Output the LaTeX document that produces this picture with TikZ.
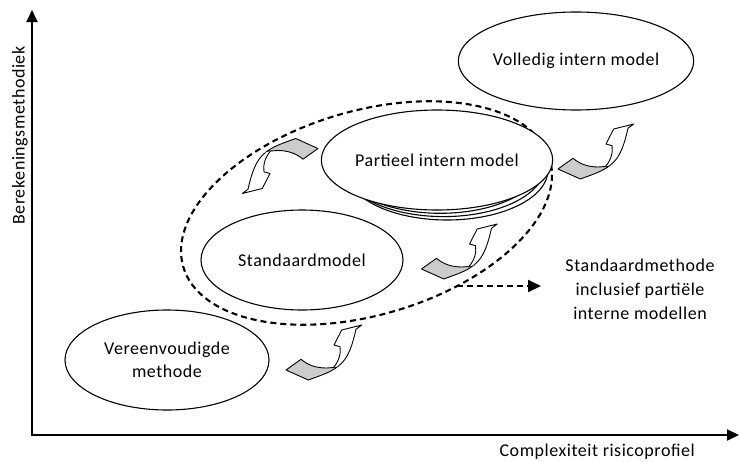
\documentclass[tikz,border=0pt]{standalone}
\usepackage{fontspec}
\setmainfont{Carlito}[LetterSpace=3]
\usetikzlibrary{shapes.geometric,arrows.meta}
\newcommand{\mycurlpath}{(9,15) .. controls (15,8) and (16.5,0) .. (15.5,-5.8) -- (9.5,-7.5) -- (17.2,-22.5) -- (37.2,-27.5) -- (31.5,-23.2) .. controls (28,-8) and (24,6) .. (14,13.5)}
\newcommand{\mycurlarrow}{%
  \filldraw[ribbonback] (-38.5,17.5) -- (-23.5,6.8) .. controls (-16,13) and (-8,15.5) .. (2,15.5) -- (9,15) -- (14,13.5) .. controls (6,20) and (-4,23) .. (-16.2,27.5) -- cycle;
  \fill[white] \mycurlpath -- cycle;
  \draw[ribbonline] \mycurlpath;
}
\begin{document}
\begin{tikzpicture}[x=1pt,y=-1pt,
  font=\fontsize{18}{23}\selectfont,
  model/.style={draw, ellipse, line width=1.1pt, fill=white, inner sep=0pt,
    minimum width=202pt, minimum height=100pt, align=center},
  axisline/.style={line width=2pt, line join=miter},
  groupline/.style={line width=2.1pt, dash pattern=on 6pt off 4pt},
  ribbonback/.style={fill=black!20, draw=black, line width=0.9pt, line join=round},
  ribbonline/.style={draw=black, line width=0.9pt, line join=round},
  label/.style={inner sep=0pt}]
\useasboundingbox (0,0) rectangle (739,461);

% axes
\coordinate (origin) at (32,435);
\coordinate (ytip) at (32,10);
\coordinate (xtip) at (739,435);
\draw[axisline, {Triangle[length=12pt,width=11pt]}-{Triangle[length=12pt,width=11pt]}] (ytip) -- (origin) -- (xtip);
\node[label, rotate=90] (ylab) at (20,135.5) {Berekeningsmethodiek};
\node[label, anchor=base east] (xlab) at (695,456.5) {Complexiteit risicoprofiel};

% dashed group
\node[draw, groupline, ellipse, inner sep=0pt, minimum width=382pt, minimum height=204pt, rotate=16.4] (grp) at (366.5,213) {};

% models
\node[model, minimum width=204pt] (simple) at (167,360) {Vereenvoudigde\\methode};
\node[model] (std) at (302,260) {Standaardmodel};
\node[model] (part3) at (447,170) {};
\node[model] (part2) at (443.6,166.6) {};
\node[model] (part1) at (440.3,163.3) {};
\node[model] (part) at (437,160) {Partieel intern model};
\node[model, minimum width=208pt, minimum height=98pt] (full) at (576,61) {Volledig intern model};

% note and dashed arrow
\node[label, align=center, font=\fontsize{18}{24}\selectfont] (note) at (640,289) {Standaardmethode\\inclusief partiële\\interne modellen};
\coordinate (dstart) at (457,286);
\coordinate (dend) at (541,286);
\draw[groupline, -{Triangle[length=13pt,width=12pt]}] (dstart) -- (dend);

% curved arrows
\begin{scope}[shift={(324.5,352.5)}] \mycurlarrow \end{scope}
\begin{scope}[shift={(460,251.5)}] \mycurlarrow \end{scope}
\begin{scope}[shift={(596.5,151.5)}] \mycurlarrow \end{scope}
\begin{scope}[shift={(279.5,166)}, rotate=180] \mycurlarrow \end{scope}
\end{tikzpicture}
\end{document}
